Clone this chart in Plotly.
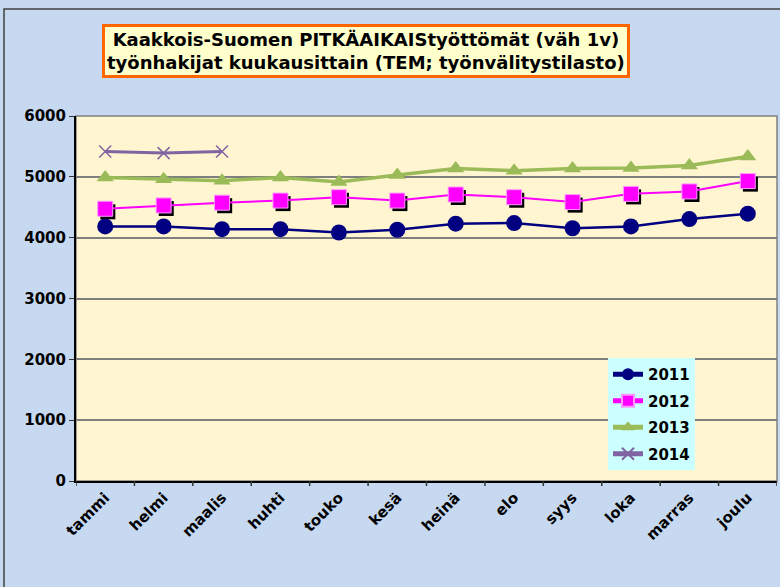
import plotly.graph_objects as go

months = ["tammi", "helmi", "maalis", "huhti", "touko", "kesä", "heinä",
          "elo", "syys", "loka", "marras", "joulu"]
y2011 = [4185, 4185, 4140, 4140, 4085, 4130, 4230, 4240, 4155, 4185, 4305, 4395]
y2012 = [4475, 4530, 4575, 4610, 4665, 4610, 4710, 4665, 4585, 4720, 4760, 4930]
y2013 = [4990, 4960, 4935, 4990, 4915, 5030, 5135, 5100, 5135, 5145, 5185, 5335]
y2014 = [5415, 5390, 5415]
yticks = [0, 1000, 2000, 3000, 4000, 5000, 6000]

FONT = "DejaVu Sans, Liberation Sans, Arial, sans-serif"
xidx = list(range(len(months)))

W, H = 780, 587
L, R, T, B = 76, 3, 116, 106
PW, PH = W - L - R, H - T - B

fig = go.Figure()

# marker shadows (drawn on shifted overlay axes, below the real series)
fig.add_trace(go.Scatter(x=xidx, y=y2012, mode="markers", xaxis="x2", yaxis="y2",
                         marker=dict(symbol="square", size=15, color="black"),
                         showlegend=False, hoverinfo="skip"))

common = dict(xaxis="x3", yaxis="y3")
fig.add_trace(go.Scatter(x=xidx, y=y2011, name="2011", legendgroup="a", mode="lines+markers",
                         line=dict(color="#000080", width=2.5),
                         marker=dict(symbol="circle", size=16, color="#000080"), **common))
fig.add_trace(go.Scatter(x=xidx, y=y2012, name="2012", legendgroup="b", mode="lines+markers",
                         line=dict(color="#FF00FF", width=2),
                         marker=dict(symbol="square", size=15, color="#FF00FF",
                                     line=dict(color="#FF99FF", width=1)), **common))
fig.add_trace(go.Scatter(x=xidx, y=y2013, name="2013", legendgroup="c", mode="lines+markers",
                         line=dict(color="#9BBB59", width=3.5),
                         marker=dict(symbol="triangle-up", size=15, color="#9BBB59"), **common))
fig.add_trace(go.Scatter(x=xidx[:len(y2014)], y=y2014, name="2014", legendgroup="d",
                         mode="lines+markers",
                         line=dict(color="#8064A2", width=3),
                         marker=dict(symbol="x-thin", size=12,
                                     line=dict(color="#8064A2", width=1.5)), **common))

rng = [-0.5, 11.5]
fig.update_layout(
    width=W, height=H,
    margin=dict(l=L, r=R, t=T, b=B),
    paper_bgcolor="#C6D9F1",
    plot_bgcolor="#FFF5D0",
    font=dict(family=FONT, color="black"),
    xaxis=dict(range=rng, tickvals=xidx, ticktext=months, ticks="",
               tickangle=-45,
               tickfont=dict(family=FONT, size=15, color="black", weight="bold"),
               showline=True, linecolor="black", linewidth=2,
               showgrid=False, zeroline=False, fixedrange=True),
    yaxis=dict(range=[0, 6000], tickvals=yticks, ticks="outside", ticklen=5,
               tickcolor="#333333",
               tickfont=dict(family=FONT, size=15, color="black", weight="bold"),
               showline=True, linecolor="black", linewidth=2,
               showgrid=True, gridcolor="#7F7F7F", gridwidth=1.8,
               zeroline=False, fixedrange=True),
    xaxis2=dict(overlaying="x", range=[rng[0] - 0.045, rng[1] - 0.045], visible=False),
    yaxis2=dict(overlaying="y", range=[50, 6050], visible=False),
    xaxis3=dict(overlaying="x", range=rng, visible=False),
    yaxis3=dict(overlaying="y", range=[0, 6000], visible=False),
    legend=dict(x=(608 - L) / PW, y=(481 - 358) / PH, xanchor="left", yanchor="top",
                bgcolor="#CCFFFF", borderwidth=0,
                font=dict(family=FONT, size=15, color="black", weight="bold"),
                tracegroupgap=4, itemsizing="constant"),
    shapes=[
        dict(type="rect", xref="paper", yref="paper", x0=0, x1=1, y0=0, y1=1,
             line=dict(color="#808080", width=1.5), layer="below"),
        dict(type="rect", xref="paper", yref="paper",
             x0=-(L - 4) / PW, x1=1.05, y0=-1, y1=1 + (T - 9) / PH,
             line=dict(color="#404040", width=1.5)),
    ] + [
        # x-axis tick marks at category boundaries
        dict(type="line", xref="x", yref="paper", x0=i - 0.5, x1=i - 0.5,
             y0=0, y1=-5 / PH, line=dict(color="#333333", width=1.5))
        for i in range(len(months) + 1)
    ],
    annotations=[
        dict(text="Kaakkois-Suomen PITKÄAIKAIStyöttömät (väh 1v)<br>työnhakijat kuukausittain (TEM; työnvälitystilasto)",
             xref="paper", yref="paper", x=(366 - L) / PW, y=(H - B - 51) / PH,
             xanchor="center", yanchor="middle", showarrow=False,
             font=dict(family=FONT, size=18, color="black", weight="bold"),
             bgcolor="#FFFFCC", bordercolor="#FF6600", borderwidth=3, borderpad=2,
             align="center"),
    ],
)

fig.write_html("out.html", config={"displayModeBar": False},
               post_script="document.body.style.margin='0';")
